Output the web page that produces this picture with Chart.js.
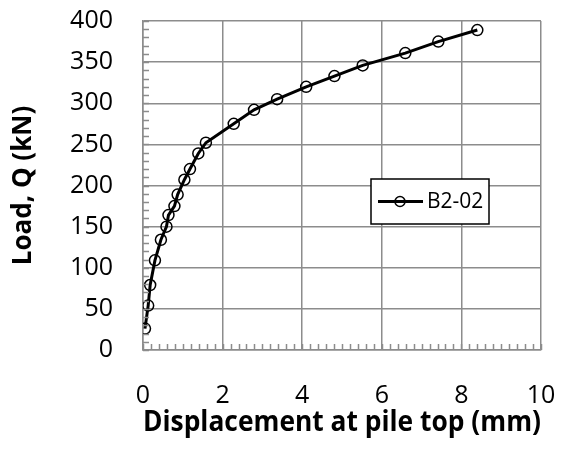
<!DOCTYPE html>
<html lang="en">
<head>
    <meta charset="UTF-8">
    <title>Load - displacement B2-02</title>
    <script src="https://cdn.jsdelivr.net/npm/chart.js"></script>
    <style>
        body { margin: 0; background: #fff; }
    </style>
</head>
<body>
    <canvas id="loadChart" width="562" height="455"></canvas>
    <script>
        // displacement at pile top (mm) and load Q (kN)
        const displacement = [0.05, 0.13, 0.18, 0.30, 0.45, 0.59, 0.64, 0.79, 0.87, 1.04, 1.18, 1.39, 1.58, 2.28, 2.79, 3.37, 4.10, 4.81, 5.52, 6.59, 7.42, 8.40];
        const load = [26, 54, 79, 109, 134, 150, 164, 175, 189, 207, 220, 239, 252, 275, 292, 305, 320, 333, 346, 361, 375, 389];
        const seriesName = 'B2-02';
        const xTicks = [0, 2, 4, 6, 8, 10];
        const yTicks = [0, 50, 100, 150, 200, 250, 300, 350, 400];

        const gridGray = '#8c8c8c';
        const fontFam = '"Open Sans", Lato, sans-serif';

        // small inward ticks between the gridlines
        const minorTicks = {
            id: 'minorTicks',
            afterDatasetsDraw(chart) {
                const { ctx, chartArea, scales: { x, y } } = chart;
                ctx.save();
                ctx.strokeStyle = gridGray;
                ctx.lineWidth = 1.5;
                ctx.beginPath();
                for (let v = 0; v <= 10.001; v += 0.2) {
                    const px = Math.round(x.getPixelForValue(v)) + 0.5;
                    ctx.moveTo(px, chartArea.bottom);
                    ctx.lineTo(px, chartArea.bottom - 6);
                }
                for (let v = 0; v <= 400; v += 10) {
                    const py = Math.round(y.getPixelForValue(v)) + 0.5;
                    ctx.moveTo(chartArea.left, py);
                    ctx.lineTo(chartArea.left + 6, py);
                }
                ctx.stroke();
                ctx.restore();
            }
        };

        // legend box inside the plot area
        const boxLegend = {
            id: 'boxLegend',
            afterDraw(chart) {
                const { ctx, chartArea } = chart;
                const ds = chart.data.datasets[0];
                const bx = chartArea.left + 228, by = chartArea.top + 158, bw = 118, bh = 45;
                ctx.save();
                ctx.fillStyle = '#fff';
                ctx.fillRect(bx, by, bw, bh);
                ctx.strokeStyle = '#000';
                ctx.lineWidth = 1.5;
                ctx.strokeRect(bx, by, bw, bh);
                const cy = by + bh / 2;
                ctx.lineWidth = 3;
                ctx.beginPath();
                ctx.moveTo(bx + 7, cy);
                ctx.lineTo(bx + 52, cy);
                ctx.stroke();
                ctx.lineWidth = 1.5;
                ctx.beginPath();
                ctx.arc(bx + 29, cy, 5, 0, Math.PI * 2);
                ctx.stroke();
                ctx.fillStyle = '#000';
                ctx.font = '21px ' + fontFam;
                ctx.textAlign = 'left';
                ctx.textBaseline = 'middle';
                ctx.fillText(ds.label, bx + 56, cy + 1);
                ctx.restore();
            }
        };

        new Chart(document.getElementById('loadChart'), {
            type: 'scatter',
            data: {
                datasets: [{
                    label: seriesName,
                    data: displacement.map((d, i) => ({ x: d, y: load[i] })),
                    showLine: true,
                    borderColor: '#000',
                    borderWidth: 3,
                    pointRadius: 5.5,
                    pointBorderWidth: 1.5,
                    pointBorderColor: '#000',
                    pointBackgroundColor: 'rgba(0,0,0,0)',
                    tension: 0
                }]
            },
            options: {
                responsive: false,
                animation: false,
                layout: { padding: { top: 21, right: 21, left: 0, bottom: 0 } },
                plugins: { legend: { display: false }, tooltip: { enabled: false } },
                scales: {
                    x: {
                        type: 'linear',
                        min: 0, max: 10,
                        afterBuildTicks: s => { s.ticks = xTicks.map(v => ({ value: v })); },
                        afterFit: s => { s.height = 105; s.paddingLeft = 0; s.paddingRight = 0; },
                        grid: { color: gridGray, lineWidth: 1.5, drawTicks: false, tickLength: 0 },
                        border: { color: gridGray, width: 1.5 },
                        ticks: { color: '#000', padding: 31, maxRotation: 0, font: { family: fontFam, size: 25 } },
                        title: {
                            display: true,
                            text: 'Displacement at pile top (mm)',
                            color: '#000',
                            font: { family: fontFam, size: 28, weight: 'bold', lineHeight: 1.2 },
                            padding: { top: 0, bottom: 15 }
                        }
                    },
                    y: {
                        type: 'linear',
                        min: 0, max: 400,
                        afterBuildTicks: s => { s.ticks = yTicks.map(v => ({ value: v })); },
                        afterFit: s => { s.width = 143; s.paddingTop = 0; s.paddingBottom = 0; },
                        grid: { color: gridGray, lineWidth: 1.5, drawTicks: false, tickLength: 0 },
                        border: { color: gridGray, width: 1.5 },
                        ticks: { color: '#000', padding: 30, font: { family: fontFam, size: 25 } },
                        title: {
                            display: true,
                            text: 'Load, Q (kN)',
                            color: '#000',
                            font: { family: fontFam, size: 26, weight: 'bold', lineHeight: 1.2 },
                            padding: { top: 8, bottom: 0 }
                        }
                    }
                }
            },
            plugins: [minorTicks, boxLegend]
        });
    </script>
</body>
</html>
